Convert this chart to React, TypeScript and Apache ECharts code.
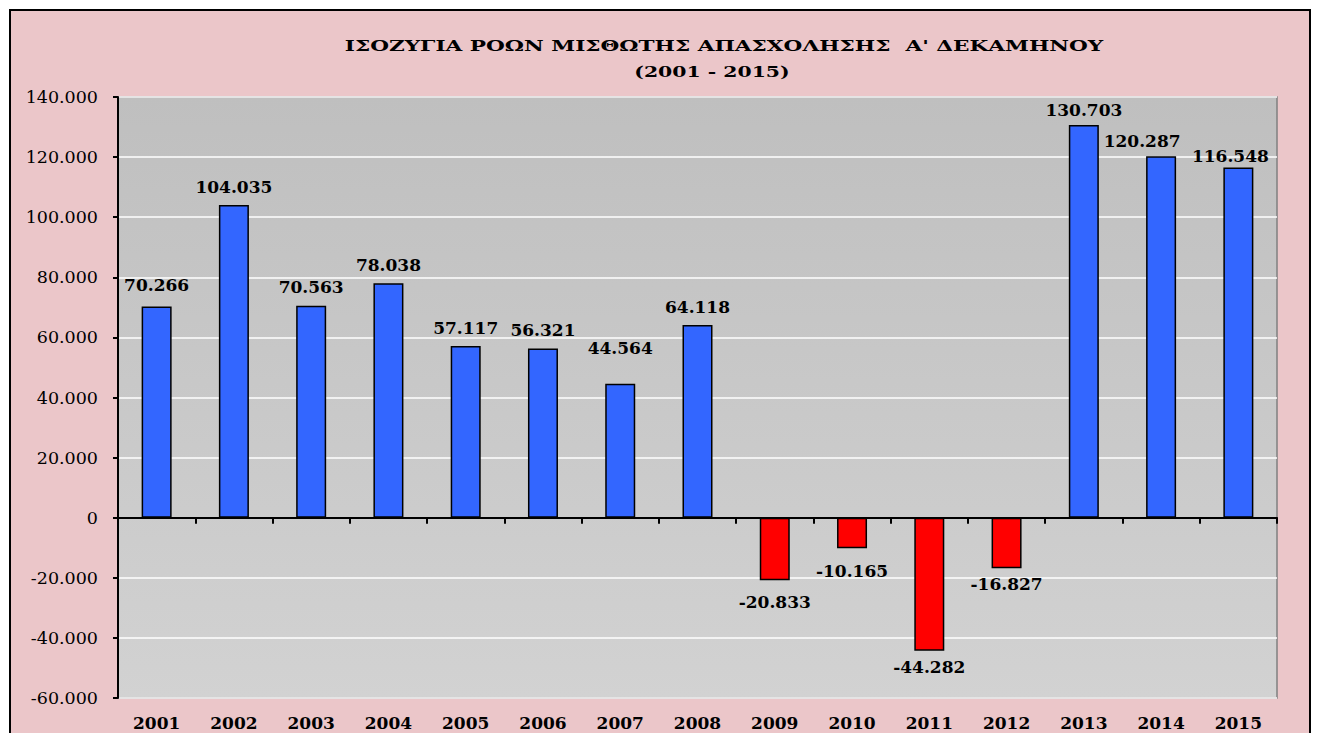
import React, { useEffect, useRef } from "react";
import * as echarts from "echarts";

const years = ["2001", "2002", "2003", "2004", "2005", "2006", "2007", "2008", "2009", "2010", "2011", "2012", "2013", "2014", "2015"];
const balances = [70266, 104035, 70563, 78038, 57117, 56321, 44564, 64118, -20833, -10165, -44282, -16827, 130703, 120287, 116548];
const yMin = -60000;
const yMax = 140000;
const yStep = 20000;
const titleLine1 = "ΙΣΟΖΥΓΙΑ ΡΟΩΝ ΜΙΣΘΩΤΗΣ ΑΠΑΣΧΟΛΗΣΗΣ  Α' ΔΕΚΑΜΗΝΟΥ";
const titleLine2 = "(2001 - 2015)";

// label nudges (style only), [dx, dy] per index
const labelNudge: Record<number, [number, number]> = {
  0: [0, -3],
  6: [0, -17],
  8: [0, 3],
  9: [0, 4],
  10: [0, -2],
  11: [0, -3],
  12: [0, 4],
  13: [-19, 3],
  14: [-8, 7],
};

const fmt = (v: number) => {
  const s = Math.abs(v).toString().replace(/\B(?=(\d{3})+(?!\d))/g, ".");
  return (v < 0 ? "-" : "") + s;
};

const FONT = "'DejaVu Serif', serif";

export default function App() {
  const ref = useRef<HTMLDivElement>(null);
  useEffect(() => {
    if (!ref.current) return;
    const chart = echarts.init(ref.current, undefined, { renderer: "svg" });
    const data = balances.map((v, i) => ({
      value: v,
      itemStyle: { color: v < 0 ? "#ff0000" : "#3366ff" },
      label: {
        position: v < 0 ? "bottom" : "top",
        offset: labelNudge[i] || [0, 0],
      },
    }));
    chart.setOption({
      animation: false,
      backgroundColor: "#ffffff",
      graphic: [
        {
          type: "rect",
          shape: { x: 10, y: 10, width: 1300, height: 740 },
          style: { fill: "#ebc6c9", stroke: "#000000", lineWidth: 2 },
          z: -10,
          silent: true,
        },
        {
          type: "text",
          x: 724,
          y: 46,
          scaleX: 1.44,
          style: {
            text: titleLine1,
            font: "bold 15px 'DejaVu Serif', serif",
            fill: "#000",
            textAlign: "center",
            textVerticalAlign: "middle",
          },
        },
        {
          type: "text",
          x: 712,
          y: 72,
          scaleX: 1.36,
          style: {
            text: titleLine2,
            font: "bold 15px 'DejaVu Serif', serif",
            fill: "#000",
            textAlign: "center",
            textVerticalAlign: "middle",
          },
        },
      ],
      grid: {
        left: 118,
        top: 97,
        width: 1159,
        height: 601,
        show: true,
        borderColor: "#808080",
        borderWidth: 1.5,
        backgroundColor: {
          type: "linear",
          x: 0, y: 0, x2: 0, y2: 1,
          colorStops: [
            { offset: 0, color: "#bfbfbf" },
            { offset: 1, color: "#d2d2d2" },
          ],
        },
      },
      xAxis: [
        {
          type: "category",
          data: years,
          position: "bottom",
          axisLine: { onZero: true, lineStyle: { color: "#000", width: 2 } },
          axisTick: { show: true, length: 6, lineStyle: { color: "#000", width: 2 } },
          axisLabel: { show: false },
        },
        {
          type: "category",
          data: years,
          position: "bottom",
          axisLine: { show: false, onZero: false },
          axisTick: { show: false },
          axisLabel: {
            margin: 16,
            fontFamily: FONT,
            fontWeight: "bold",
            fontSize: 17,
            color: "#000",
          },
        },
      ],
      yAxis: {
        type: "value",
        min: yMin,
        max: yMax,
        interval: yStep,
        axisLine: { show: true, lineStyle: { color: "#000", width: 2 } },
        axisTick: { show: true, length: 5, lineStyle: { color: "#000", width: 2 } },
        axisLabel: {
          formatter: (v: number) => fmt(v),
          fontFamily: FONT,
          fontSize: 17.5,
          color: "#000",
          margin: 20,
        },
        splitLine: { show: true, lineStyle: { color: "#ffffff", width: 1.5 } },
      },
      series: [
        {
          type: "bar",
          xAxisIndex: 0,
          data,
          barWidth: 30,
          itemStyle: { borderColor: "#000", borderWidth: 1.5 },
          label: {
            show: true,
            distance: 10,
            formatter: (p: any) => fmt(p.value),
            fontFamily: FONT,
            fontWeight: "bold",
            fontSize: 17,
            color: "#000",
          },
        },
      ],
    });
    return () => chart.dispose();
  }, []);
  return (
    <div
      ref={ref}
      style={{ position: "absolute", left: 0, top: 0, width: 1319, height: 733 }}
    />
  );
}
